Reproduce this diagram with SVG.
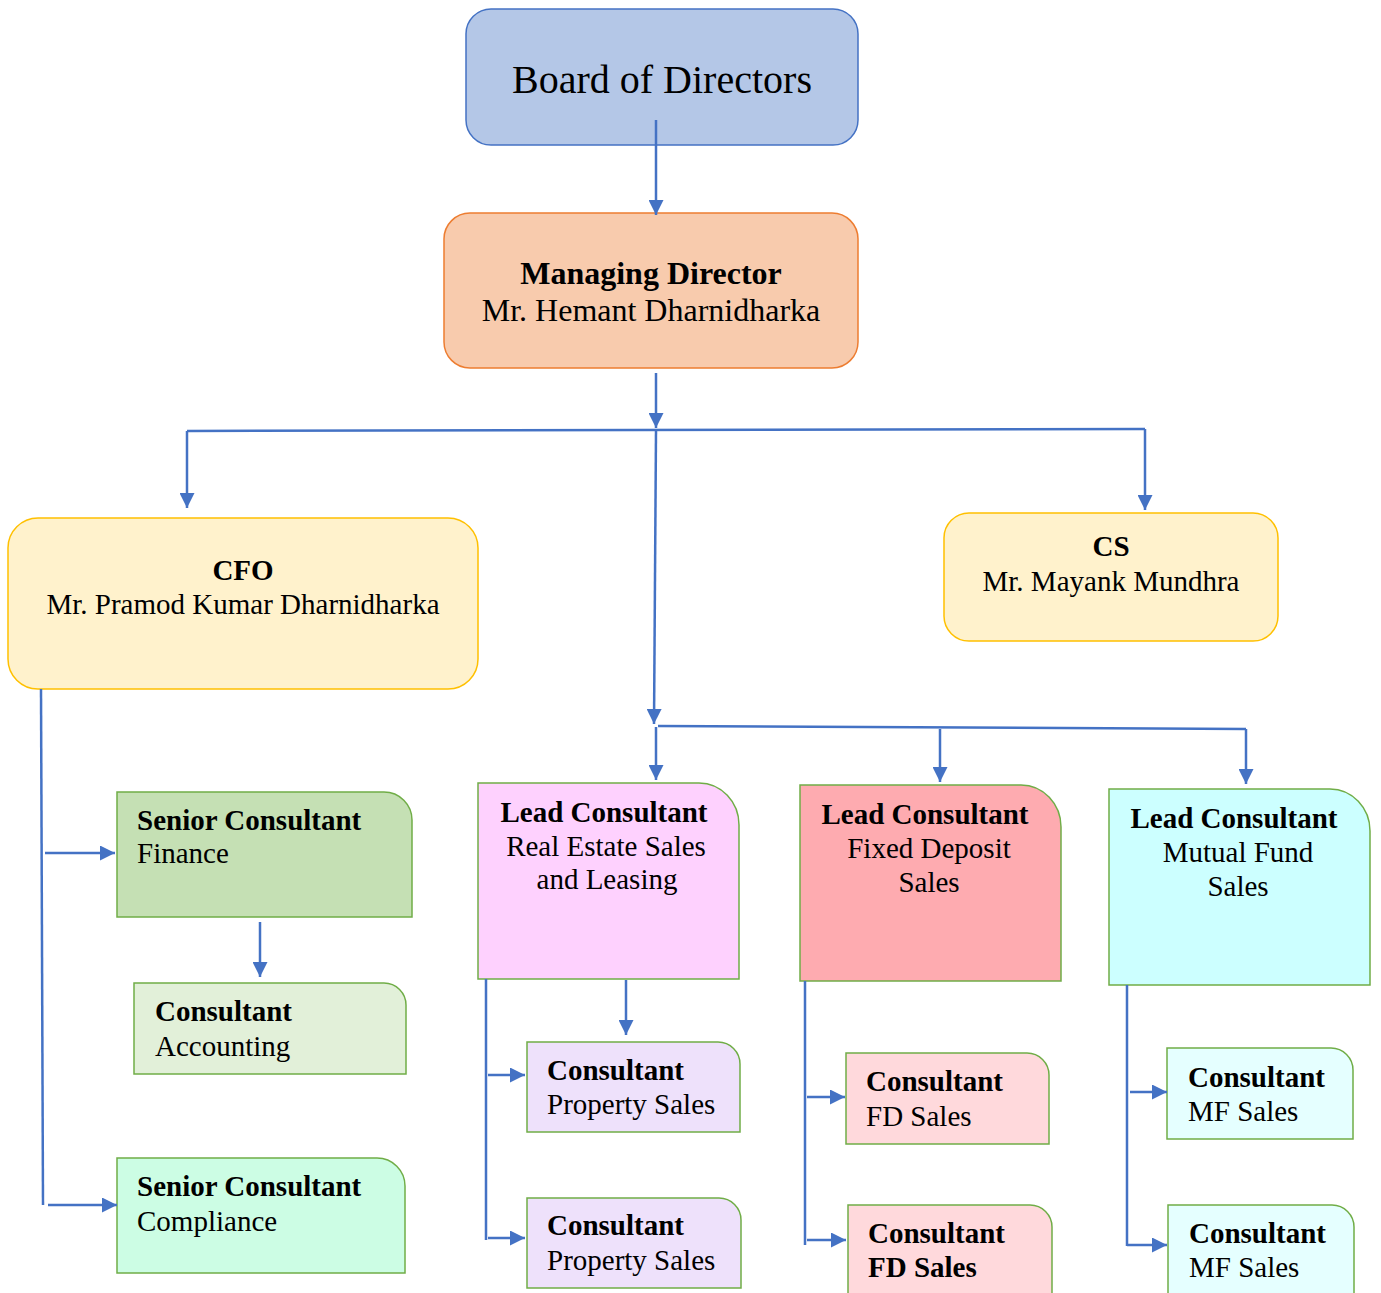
<svg xmlns="http://www.w3.org/2000/svg" width="1381" height="1293" viewBox="0 0 1381 1293">
<defs>
<marker id="arr" viewBox="0 0 10 10" refX="10" refY="5" markerWidth="15" markerHeight="15" markerUnits="userSpaceOnUse" orient="auto"><path d="M0,0 L10,5 L0,10 Z" fill="#4472c4"/></marker>
</defs>
<style>
text{font-family:"Liberation Serif","Times New Roman",serif;font-size:29px;fill:#000}
.b{font-weight:bold}
.c{text-anchor:middle}
.ln{fill:none;stroke:#4472c4;stroke-width:2.5;marker-end:url(#arr)}
.ln0{fill:none;stroke:#4472c4;stroke-width:2.5}
.g{stroke:#70ad47;stroke-width:1.5}
</style>
<rect width="1381" height="1293" fill="#fff"/>
<g id="board">
<rect x="466" y="9" width="392" height="136" rx="25" fill="#b4c7e7" stroke="#4472c4" stroke-width="1.5"/>
<text x="662" y="93" class="c" style="font-size:40px">Board of Directors</text>
</g>
<g id="md">
<rect x="444" y="213" width="414" height="155" rx="26" fill="#f8cbad" stroke="#ed7d31" stroke-width="1.5"/>
<text x="651" y="284" class="c b" style="font-size:32px">Managing Director</text>
<text x="651" y="321" class="c" style="font-size:32px">Mr. Hemant Dharnidharka</text>
</g>
<g id="cfo">
<rect x="8" y="518" width="470" height="171" rx="30" fill="#fff2cc" stroke="#ffc000" stroke-width="1.5"/>
<text x="243" y="580" class="c b">CFO</text>
<text x="243" y="614" class="c">Mr. Pramod Kumar Dharnidharka</text>
</g>
<g id="cs">
<rect x="944" y="513" width="334" height="128" rx="25" fill="#fff2cc" stroke="#ffc000" stroke-width="1.5"/>
<text x="1111" y="556" class="c b">CS</text>
<text x="1111" y="591" class="c">Mr. Mayank Mundhra</text>
</g>
<g id="sc-finance">
<path d="M117,792 H384 A28,28 0 0 1 412,820 V917 H117 Z" fill="#c5e0b4" class="g"/>
<text x="137" y="830" class="b">Senior Consultant</text>
<text x="137" y="863">Finance</text>
</g>
<g id="c-accounting">
<path d="M134,983 H384 A22,22 0 0 1 406,1005 V1074 H134 Z" fill="#e2f0d9" class="g"/>
<text x="155" y="1021" class="b">Consultant</text>
<text x="155" y="1056">Accounting</text>
</g>
<g id="sc-compliance">
<path d="M117,1158 H377 A28,28 0 0 1 405,1186 V1273 H117 Z" fill="#ccfde4" class="g"/>
<text x="137" y="1196" class="b">Senior Consultant</text>
<text x="137" y="1231">Compliance</text>
</g>
<g id="lc-realestate">
<path d="M478,783 H699 A40,42 0 0 1 739,825 V979 H478 Z" fill="#fed1fe" class="g"/>
<text x="604" y="822" class="c b">Lead Consultant</text>
<text x="606" y="856" class="c">Real Estate Sales</text>
<text x="607" y="889" class="c">and Leasing</text>
</g>
<g id="lc-fd">
<path d="M800,785 H1021 A40,42 0 0 1 1061,827 V981 H800 Z" fill="#feabb0" class="g"/>
<text x="925" y="824" class="c b">Lead Consultant</text>
<text x="929" y="858" class="c">Fixed Deposit</text>
<text x="929" y="892" class="c">Sales</text>
</g>
<g id="lc-mf">
<path d="M1109,789 H1330 A40,42 0 0 1 1370,831 V985 H1109 Z" fill="#ccffff" class="g"/>
<text x="1234" y="828" class="c b">Lead Consultant</text>
<text x="1238" y="862" class="c">Mutual Fund</text>
<text x="1238" y="896" class="c">Sales</text>
</g>
<g id="c-property-1">
<path d="M527,1042 H718 A22,22 0 0 1 740,1064 V1132 H527 Z" fill="#eee1fb" class="g"/>
<text x="547" y="1080" class="b">Consultant</text>
<text x="547" y="1114">Property Sales</text>
</g>
<g id="c-property-2">
<path d="M527,1198 H719 A22,22 0 0 1 741,1220 V1288 H527 Z" fill="#eee1fb" class="g"/>
<text x="547" y="1235" class="b">Consultant</text>
<text x="547" y="1270">Property Sales</text>
</g>
<g id="c-fd-1">
<path d="M846,1053 H1027 A22,22 0 0 1 1049,1075 V1144 H846 Z" fill="#ffd9dc" class="g"/>
<text x="866" y="1091" class="b">Consultant</text>
<text x="866" y="1126">FD Sales</text>
</g>
<g id="c-fd-2">
<path d="M848,1205 H1030 A22,22 0 0 1 1052,1227 V1300 H848 Z" fill="#ffd9dc" class="g"/>
<text x="868" y="1243" class="b">Consultant</text>
<text x="868" y="1277" class="b">FD Sales</text>
</g>
<g id="c-mf-1">
<path d="M1167,1048 H1331 A22,22 0 0 1 1353,1070 V1139 H1167 Z" fill="#e5ffff" class="g"/>
<text x="1188" y="1087" class="b">Consultant</text>
<text x="1188" y="1121">MF Sales</text>
</g>
<g id="c-mf-2">
<path d="M1168,1205 H1332 A22,22 0 0 1 1354,1227 V1300 H1168 Z" fill="#e5ffff" class="g"/>
<text x="1189" y="1243" class="b">Consultant</text>
<text x="1189" y="1277">MF Sales</text>
</g>
<g id="connectors">
<path class="ln" d="M656,120 V215"/>
<path class="ln" d="M656,373 V428"/>
<path class="ln0" d="M187,431 L1145,429"/>
<path class="ln" d="M187,431 V508"/>
<path class="ln" d="M1145,429 V510"/>
<path class="ln" d="M656,430 L654,724"/>
<path class="ln0" d="M658,726 L1246,729"/>
<path class="ln" d="M656,727 V780"/>
<path class="ln" d="M940,729 V782"/>
<path class="ln" d="M1246,729 V784"/>
<path class="ln0" d="M41,689 L43,1205"/>
<path class="ln" d="M45,853 H115"/>
<path class="ln" d="M48,1205 H117"/>
<path class="ln" d="M260,922 V977"/>
<path class="ln0" d="M486,979 V1240"/>
<path class="ln" d="M488,1075 H525"/>
<path class="ln" d="M488,1238 H525"/>
<path class="ln" d="M626,980 V1035"/>
<path class="ln0" d="M805,981 V1245"/>
<path class="ln" d="M807,1097 H845"/>
<path class="ln" d="M807,1240 H846"/>
<path class="ln0" d="M1127,985 V1246"/>
<path class="ln" d="M1130,1092 H1167"/>
<path class="ln" d="M1127,1245 H1167"/>
</g>
</svg>
